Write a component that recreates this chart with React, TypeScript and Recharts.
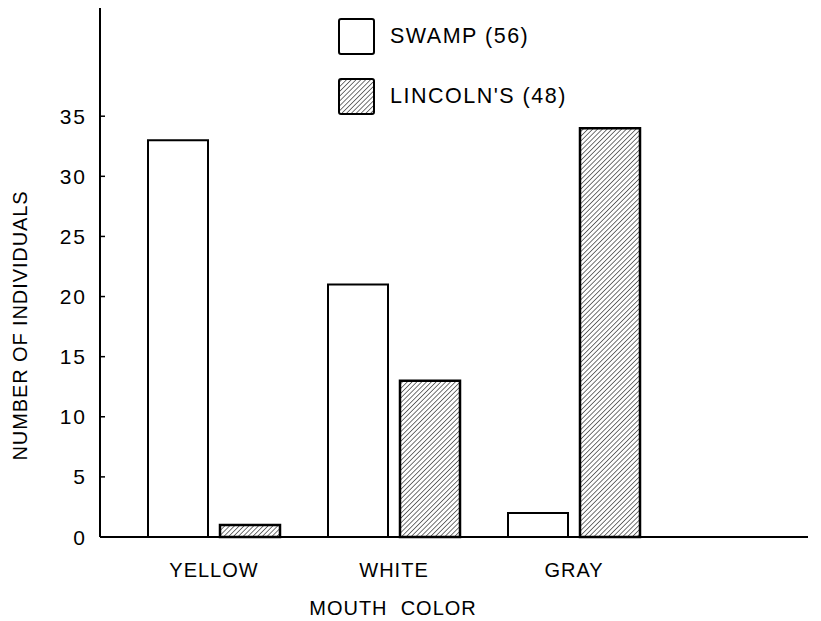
import { Bar, BarChart, Legend, XAxis, YAxis, Label } from "recharts"

const categories = ["YELLOW", "WHITE", "GRAY"]
const swamp = [33, 21, 2]
const lincolns = [1, 13, 34]
const yTicks = [0, 5, 10, 15, 20, 25, 30, 35]
const seriesNames = ["SWAMP (56)", "LINCOLN'S (48)"]

const data = categories.map((c, i) => ({ color: c, swamp: swamp[i], lincolns: lincolns[i] }))

const FONT = "'Liberation Sans', Arial, sans-serif"

function YTick(props: any) {
  const { x, y, payload } = props
  return (
    <g>
      <line x1={x} y1={y} x2={x + 5} y2={y} stroke="#000" strokeWidth={1.5} />
      <text x={x - 13} y={y} textAnchor="end" dominantBaseline="central" fontSize={21} fontFamily={FONT} letterSpacing={2} fill="#000">
        {payload.value}
      </text>
    </g>
  )
}

function XTick(props: any) {
  const { x, y, payload } = props
  return (
    <text x={x} y={y + 25} textAnchor="middle" dominantBaseline="central" fontSize={20} fontFamily={FONT} letterSpacing={1} fill="#000">
      {payload.value}
    </text>
  )
}

function LegendBox() {
  return (
    <div style={{ fontFamily: FONT, fontSize: 21.5, color: "#000" }}>
      {seriesNames.map((name, i) => (
        <div key={name} style={{ display: "flex", alignItems: "center", height: 37, marginBottom: i === 0 ? 23 : 0 }}>
          <svg width={37} height={37} style={{ display: "block" }}>
            <rect x={1} y={1} width={35} height={35} rx={2} fill={i === 0 ? "#fff" : "url(#hatch)"} stroke="#000" strokeWidth={2} />
          </svg>
          <span style={{ marginLeft: 15, letterSpacing: 1.5 }}>{name}</span>
        </div>
      ))}
    </div>
  )
}

export default function App() {
  return (
    <div style={{ position: "absolute", left: 0, top: 0, width: 821, height: 621, background: "#fff" }}>
      <svg width={0} height={0} style={{ position: "absolute" }}>
        <defs>
          <pattern id="hatch" width={3.4} height={3.4} patternUnits="userSpaceOnUse" patternTransform="rotate(45)">
            <rect width={3.4} height={3.4} fill="#fff" />
            <line x1={0} y1={0} x2={0} y2={3.4} stroke="#000" strokeWidth={1.1} />
          </pattern>
        </defs>
      </svg>
      <BarChart
        width={821}
        height={621}
        data={data}
        margin={{ top: 8, right: 13, bottom: 0, left: 0 }}
        barSize={60}
        barGap={12}
      >
        <XAxis
          dataKey="color"
          height={84}
          padding={{ left: 24, right: 144 }}
          axisLine={{ stroke: "#000", strokeWidth: 2 }}
          tickLine={false}
          tick={<XTick />}
          interval={0}
        >
          <Label
            value={"MOUTH\u00A0\u00A0COLOR"}
            position="insideBottom"
            offset={6}
            dx={-61}
            style={{ fontFamily: FONT, fontSize: 20, fill: "#000", letterSpacing: 1 }}
          />
        </XAxis>
        <YAxis
          width={100}
          domain={[0, 44]}
          ticks={yTicks}
          axisLine={{ stroke: "#000", strokeWidth: 2 }}
          tickLine={false}
          tickSize={0}
          tickMargin={0}
          tick={<YTick />}
        >
          <Label
            content={(p: any) => {
              const vb = p.viewBox
              const cx = vb.x + 20
              const cy = vb.y + vb.height / 2 + 53
              return (
                <text x={cx} y={cy} transform={`rotate(-90 ${cx} ${cy})`} textAnchor="middle" dominantBaseline="central" fontSize={20} fontFamily={FONT} letterSpacing={0.9} fill="#000">
                  NUMBER OF INDIVIDUALS
                </text>
              )
            }}
          />
        </YAxis>
        <Legend
          layout="vertical"
          align="center"
          verticalAlign="middle"
          content={<LegendBox />}
          wrapperStyle={{ top: 18, left: 338, width: "auto" }}
        />
        <Bar dataKey="swamp" name={seriesNames[0]} fill="#fff" stroke="#000" strokeWidth={2} isAnimationActive={false} />
        <Bar dataKey="lincolns" name={seriesNames[1]} fill="url(#hatch)" stroke="#000" strokeWidth={2.5} isAnimationActive={false} />
      </BarChart>
    </div>
  )
}
